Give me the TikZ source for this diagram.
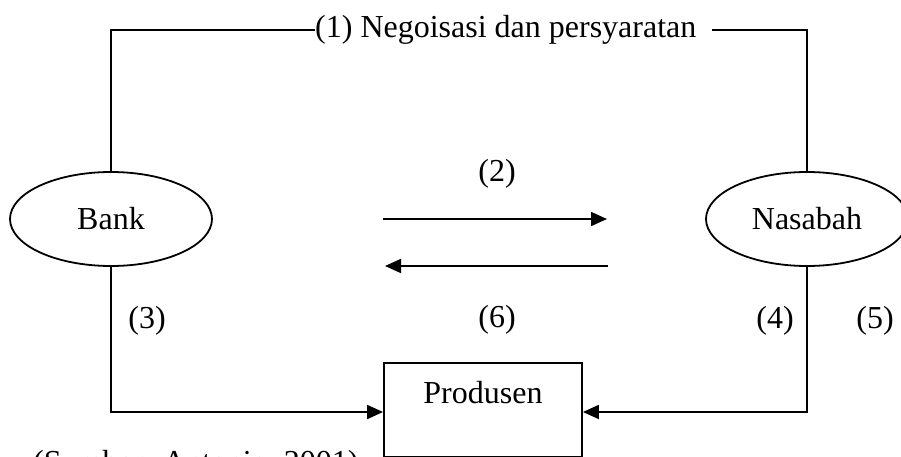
\documentclass[tikz,border=0pt]{standalone}
\usepackage{fontspec}
\setmainfont{Liberation Serif}
\usetikzlibrary{shapes.geometric,arrows.meta}
\begin{document}
\begin{tikzpicture}[x=1pt,y=-1pt,
  every node/.style={font=\fontsize{32pt}{38pt}\selectfont},
  wire/.style={line width=1.8pt},
  flow/.style={wire, -{Triangle[length=16pt,width=14pt]}},
  party/.style={ellipse, draw, line width=1.8pt, minimum width=202pt,
    minimum height=94pt, inner sep=0pt},
  maker/.style={draw, line width=1.8pt, minimum width=198pt, inner xsep=0pt,
    inner ysep=10pt, text height=31pt, text depth=43pt},
  tag/.style={inner sep=0pt}
]
\useasboundingbox (0,0) rectangle (901,457);
\clip (0,0) rectangle (901,457);

% parties
\node[party] (bank) at (111,219) {Bank};
\node[party] (nasabah) at (807,219) {Nasabah};
\node[maker, anchor=north] (produsen) at (483,362) {Produsen};

% (1) negotiation link across the top
\node[tag, anchor=base west] (nego) at (315,38) {(1) Negoisasi dan persyaratan};
\coordinate (negoend) at (712,30);
\draw[wire] (bank.north) |- (nego.west |- 0,30);
\draw[wire] (negoend) -| (nasabah.north);

% (2) and (6) flows between bank and customer
\coordinate (a2s) at (383,219);
\coordinate (a2e) at (607,219);
\coordinate (a6s) at (608,266);
\coordinate (a6e) at (385,266);
\draw[flow] (a2s) -- (a2e);
\draw[flow] (a6s) -- (a6e);
\node[tag] (l2) at (497,174) {(2)};
\node[tag] (l6) at (497,320) {(6)};

% (3) and (4) flows into the producer
\draw[flow] (bank.south) |- (produsen.west |- 0,412);
\draw[flow] (nasabah.south) |- (produsen.east |- 0,412);
\node[tag] (l3) at (147,321) {(3)};
\node[tag] (l4) at (775,321) {(4)};
\node[tag] (l5) at (875,321) {(5)};

% source line, running off the lower edge
\node[tag, anchor=base west] (src) at (33,472) {(Sumber: Antonio, 2001)};
\end{tikzpicture}
\end{document}
